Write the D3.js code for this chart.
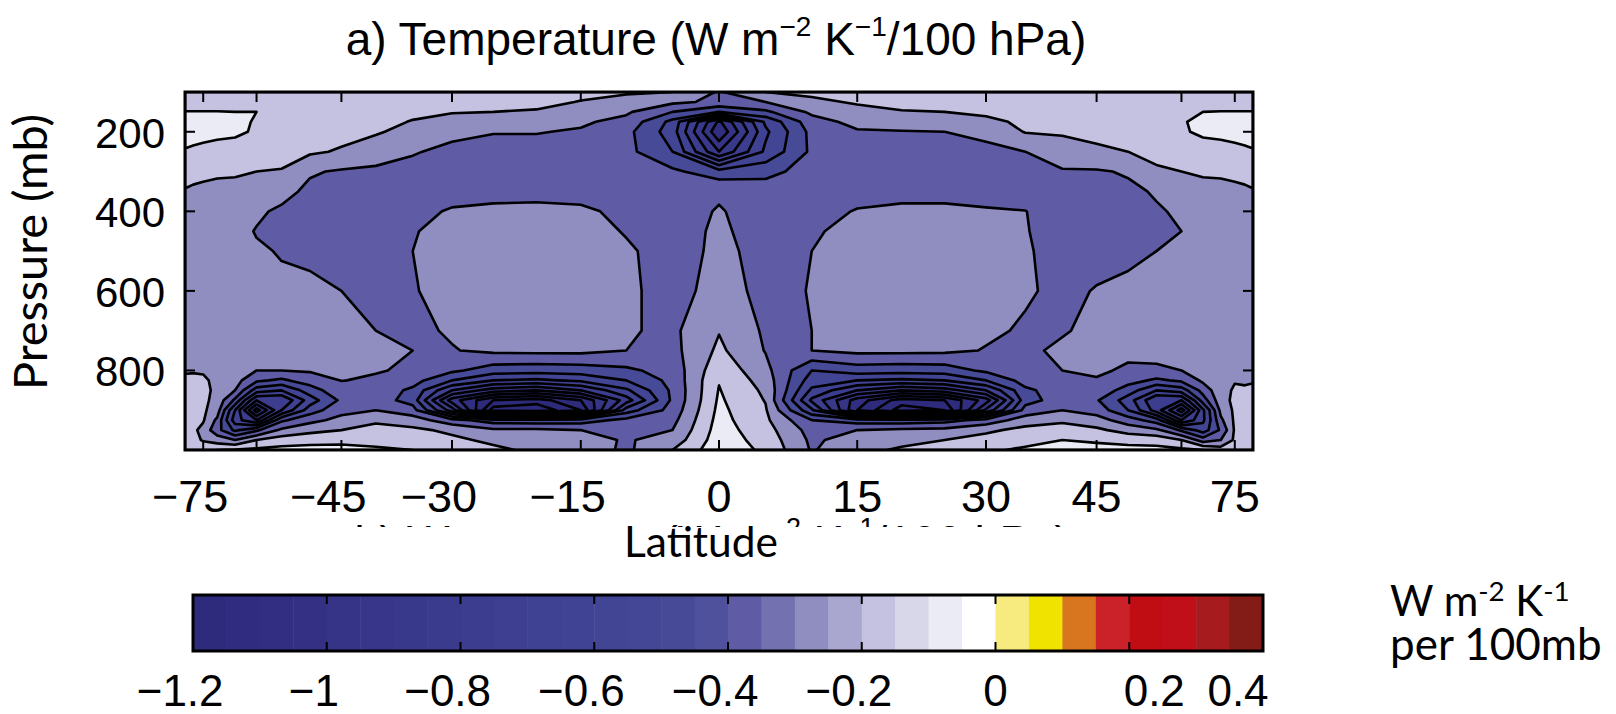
<!DOCTYPE html>
<html>
<head>
<meta charset="utf-8">
<script src="https://cdn.jsdelivr.net/npm/d3@7"></script>
<style>
  html, body { margin: 0; padding: 0; background: #ffffff; }
  svg { display: block; }
</style>
</head>
<body>
<svg id="chart" width="1616" height="714"></svg>
<script>
// ---------------------------------------------------------------
// Grid of the temperature kernel (W m-2 K-1 per 100 hPa)
// ---------------------------------------------------------------
const latitudes = [-90, -85, -80, -75, -70, -65, -60, -55, -50, -45, -40, -35, -30, -25, -20, -15, -10, -5,
                   0, 5, 10, 15, 20, 25, 30, 35, 40, 45, 50, 55, 60, 65, 70, 75, 80, 85, 90];

const pressureLevels = [100, 125, 150, 175, 200, 250, 300, 350, 400, 450, 500, 600, 700,
                        750, 800, 825, 850, 875, 900, 925, 950, 975, 1000];

// one column per latitude, values from top (100 hPa) to surface (1000 hPa)
const kernelColumns = [
  [-0.13,-0.115,-0.099,-0.088,-0.08,-0.105,-0.17,-0.21,-0.23,-0.235,-0.24,-0.24,-0.23,-0.22,-0.205,-0.19,-0.18,-0.17,-0.17,-0.17,-0.16,-0.15,-0.14],        // -90
  [-0.13,-0.115,-0.099,-0.088,-0.08,-0.105,-0.172,-0.207,-0.23,-0.235,-0.24,-0.245,-0.235,-0.225,-0.205,-0.19,-0.18,-0.175,-0.17,-0.17,-0.165,-0.155,-0.14], // -85
  [-0.13,-0.115,-0.099,-0.089,-0.082,-0.108,-0.177,-0.212,-0.235,-0.24,-0.245,-0.25,-0.24,-0.23,-0.203,-0.192,-0.185,-0.18,-0.18,-0.18,-0.175,-0.16,-0.14], // -80
  [-0.13,-0.115,-0.099,-0.09,-0.085,-0.112,-0.182,-0.217,-0.24,-0.245,-0.25,-0.255,-0.25,-0.24,-0.21,-0.185,-0.18,-0.18,-0.182,-0.19,-0.23,-0.21,-0.12],     // -75
  [-0.13,-0.115,-0.099,-0.092,-0.088,-0.118,-0.188,-0.222,-0.245,-0.25,-0.255,-0.26,-0.255,-0.25,-0.235,-0.22,-0.215,-0.225,-0.25,-0.32,-0.36,-0.25,-0.1],   // -70
  [-0.13,-0.115,-0.1,-0.094,-0.092,-0.12,-0.19,-0.225,-0.255,-0.27,-0.265,-0.265,-0.26,-0.255,-0.25,-0.26,-0.3,-0.42,-0.6,-0.65,-0.52,-0.3,-0.09],           // -65
  [-0.14,-0.118,-0.1,-0.102,-0.105,-0.15,-0.2,-0.24,-0.285,-0.305,-0.29,-0.275,-0.27,-0.27,-0.3,-0.38,-0.55,-0.8,-1.05,-0.8,-0.42,-0.2,-0.08],              // -60
  [-0.15,-0.13,-0.115,-0.12,-0.13,-0.17,-0.205,-0.27,-0.315,-0.32,-0.305,-0.285,-0.275,-0.275,-0.3,-0.42,-0.6,-0.8,-0.7,-0.42,-0.28,-0.15,-0.07],           // -55
  [-0.16,-0.145,-0.13,-0.14,-0.15,-0.185,-0.29,-0.32,-0.33,-0.33,-0.315,-0.285,-0.28,-0.28,-0.29,-0.35,-0.45,-0.55,-0.45,-0.33,-0.23,-0.13,-0.07],          // -50
  [-0.17,-0.155,-0.145,-0.157,-0.17,-0.21,-0.31,-0.34,-0.34,-0.34,-0.33,-0.3,-0.285,-0.28,-0.29,-0.298,-0.33,-0.38,-0.33,-0.27,-0.2,-0.12,-0.075],          // -45
  [-0.18,-0.165,-0.155,-0.172,-0.19,-0.25,-0.32,-0.35,-0.35,-0.345,-0.34,-0.32,-0.3,-0.29,-0.295,-0.31,-0.34,-0.35,-0.3,-0.22,-0.16,-0.12,-0.09],           // -40
  [-0.17,-0.17,-0.18,-0.205,-0.23,-0.29,-0.34,-0.36,-0.33,-0.305,-0.3,-0.305,-0.32,-0.3,-0.31,-0.36,-0.42,-0.44,-0.36,-0.25,-0.18,-0.13,-0.1],              // -35
  [-0.165,-0.175,-0.195,-0.232,-0.27,-0.33,-0.35,-0.34,-0.29,-0.275,-0.27,-0.275,-0.29,-0.305,-0.38,-0.5,-0.7,-0.95,-0.75,-0.36,-0.22,-0.18,-0.13],         // -30
  [-0.16,-0.175,-0.2,-0.25,-0.295,-0.34,-0.35,-0.33,-0.28,-0.27,-0.265,-0.265,-0.27,-0.28,-0.45,-0.6,-0.85,-1.2,-1.35,-0.45,-0.28,-0.22,-0.18],             // -25
  [-0.155,-0.17,-0.21,-0.255,-0.295,-0.34,-0.35,-0.33,-0.275,-0.265,-0.26,-0.26,-0.265,-0.275,-0.46,-0.62,-0.9,-1.25,-1.38,-0.46,-0.28,-0.24,-0.22],        // -20
  [-0.17,-0.205,-0.24,-0.285,-0.31,-0.35,-0.35,-0.33,-0.285,-0.27,-0.265,-0.265,-0.27,-0.275,-0.45,-0.58,-0.8,-1.1,-1.2,-0.45,-0.3,-0.26,-0.24],            // -15
  [-0.19,-0.23,-0.285,-0.33,-0.37,-0.37,-0.36,-0.345,-0.32,-0.305,-0.29,-0.285,-0.29,-0.3,-0.42,-0.5,-0.62,-0.75,-0.55,-0.37,-0.32,-0.31,-0.32],           // -10
  [-0.2,-0.28,-0.4,-0.53,-0.55,-0.5,-0.38,-0.35,-0.33,-0.325,-0.33,-0.33,-0.32,-0.33,-0.36,-0.37,-0.38,-0.38,-0.36,-0.33,-0.3,-0.26,-0.2],                  // -5
  [-0.31,-0.32,-0.5,-1.02,-1.09,-0.9,-0.46,-0.31,-0.295,-0.29,-0.285,-0.27,-0.205,-0.18,-0.13,-0.105,-0.095,-0.085,-0.075,-0.065,-0.055,-0.045,-0.035],     // 0
  [-0.2,-0.3,-0.42,-0.58,-0.62,-0.58,-0.43,-0.35,-0.33,-0.325,-0.32,-0.32,-0.315,-0.305,-0.27,-0.245,-0.22,-0.205,-0.19,-0.18,-0.16,-0.14,-0.12],           // 5
  [-0.18,-0.22,-0.28,-0.34,-0.37,-0.38,-0.36,-0.345,-0.33,-0.31,-0.3,-0.297,-0.3,-0.3,-0.5,-0.55,-0.62,-0.72,-0.58,-0.4,-0.34,-0.32,-0.31],                 // 10
  [-0.165,-0.19,-0.23,-0.27,-0.31,-0.35,-0.35,-0.33,-0.295,-0.275,-0.265,-0.265,-0.27,-0.275,-0.45,-0.6,-0.8,-1.05,-1.1,-0.45,-0.3,-0.25,-0.22],            // 15
  [-0.155,-0.175,-0.205,-0.255,-0.305,-0.34,-0.35,-0.33,-0.28,-0.265,-0.26,-0.26,-0.265,-0.275,-0.46,-0.62,-0.9,-1.25,-1.35,-0.46,-0.28,-0.22,-0.19],       // 20
  [-0.155,-0.17,-0.2,-0.25,-0.3,-0.34,-0.35,-0.33,-0.28,-0.27,-0.265,-0.265,-0.27,-0.28,-0.45,-0.6,-0.85,-1.2,-1.3,-0.44,-0.27,-0.2,-0.15],                 // 25
  [-0.155,-0.165,-0.18,-0.225,-0.27,-0.33,-0.35,-0.34,-0.29,-0.275,-0.27,-0.275,-0.285,-0.305,-0.38,-0.5,-0.7,-0.95,-0.78,-0.36,-0.22,-0.16,-0.11],         // 30
  [-0.15,-0.155,-0.165,-0.18,-0.195,-0.3,-0.34,-0.35,-0.298,-0.295,-0.29,-0.29,-0.31,-0.31,-0.31,-0.36,-0.42,-0.44,-0.36,-0.25,-0.17,-0.12,-0.09],          // 35
  [-0.15,-0.155,-0.16,-0.175,-0.19,-0.24,-0.31,-0.34,-0.345,-0.34,-0.335,-0.32,-0.305,-0.29,-0.3,-0.32,-0.35,-0.35,-0.3,-0.22,-0.15,-0.1,-0.08],            // 40
  [-0.155,-0.16,-0.165,-0.175,-0.185,-0.21,-0.31,-0.34,-0.34,-0.335,-0.33,-0.295,-0.285,-0.28,-0.29,-0.305,-0.33,-0.39,-0.34,-0.26,-0.18,-0.11,-0.075],     // 45
  [-0.16,-0.165,-0.17,-0.175,-0.18,-0.2,-0.29,-0.32,-0.33,-0.33,-0.31,-0.29,-0.28,-0.285,-0.31,-0.36,-0.45,-0.55,-0.5,-0.35,-0.24,-0.13,-0.07],             // 50
  [-0.16,-0.165,-0.17,-0.17,-0.17,-0.18,-0.21,-0.29,-0.31,-0.315,-0.3,-0.28,-0.28,-0.28,-0.31,-0.42,-0.6,-0.8,-0.75,-0.45,-0.28,-0.14,-0.07],               // 55
  [-0.15,-0.132,-0.105,-0.102,-0.105,-0.15,-0.2,-0.25,-0.285,-0.3,-0.29,-0.275,-0.27,-0.27,-0.3,-0.38,-0.55,-0.8,-1.05,-0.8,-0.42,-0.2,-0.08],              // 60
  [-0.13,-0.115,-0.1,-0.094,-0.092,-0.12,-0.19,-0.225,-0.255,-0.265,-0.265,-0.265,-0.26,-0.255,-0.26,-0.28,-0.36,-0.45,-0.62,-0.62,-0.55,-0.35,-0.1],       // 65
  [-0.13,-0.115,-0.099,-0.092,-0.088,-0.118,-0.188,-0.222,-0.245,-0.25,-0.255,-0.26,-0.255,-0.25,-0.24,-0.235,-0.225,-0.23,-0.27,-0.32,-0.38,-0.3,-0.15],   // 70
  [-0.13,-0.115,-0.099,-0.09,-0.085,-0.112,-0.182,-0.217,-0.24,-0.245,-0.25,-0.255,-0.25,-0.24,-0.215,-0.205,-0.19,-0.18,-0.18,-0.18,-0.185,-0.18,-0.15],   // 75
  [-0.13,-0.115,-0.099,-0.089,-0.082,-0.108,-0.177,-0.212,-0.235,-0.24,-0.245,-0.25,-0.24,-0.23,-0.215,-0.21,-0.19,-0.175,-0.17,-0.17,-0.17,-0.165,-0.155], // 80
  [-0.13,-0.115,-0.099,-0.088,-0.08,-0.105,-0.172,-0.207,-0.23,-0.235,-0.24,-0.245,-0.235,-0.225,-0.215,-0.205,-0.19,-0.175,-0.17,-0.17,-0.165,-0.16,-0.15], // 85
  [-0.13,-0.115,-0.099,-0.088,-0.08,-0.105,-0.17,-0.21,-0.23,-0.235,-0.24,-0.24,-0.23,-0.22,-0.21,-0.205,-0.19,-0.175,-0.17,-0.17,-0.16,-0.155,-0.15]        // 90
];

// contour levels drawn in the panel
const contourLevels = [-1.5, -1.4, -1.3, -1.2, -1.1, -1.0, -0.9, -0.8, -0.7, -0.6, -0.5, -0.4, -0.3, -0.2, -0.1];

// colour bar: 0.05-wide bins from -1.2 to 0.4
const colorbarStart = -1.2;
const colorbarStep = 0.05;
const colorbarColors = [
  "#2e2a7c", "#302c7f", "#322f82", "#343185", "#363487", "#38368a", "#39398b", "#3b3b8d",
  "#3c3d8f", "#3e3f90", "#3f4192", "#404393", "#424594", "#434795", "#464a97", "#4f519c",
  "#5f5ca5", "#7471b0", "#908dc0", "#a9a6d0", "#c4c2e0", "#d8d7ea", "#ebebf5", "#ffffff",
  "#f7eb7f", "#f1e300", "#d87620", "#cb2128", "#c00d14", "#c00f18", "#a51b1e", "#831b16"
];
const colorbarTicks = [-1.2, -1.0, -0.8, -0.6, -0.4, -0.2, 0, 0.2, 0.4];
const colorbarTickLabels = ["\u22121.2", "\u22121", "\u22120.8", "\u22120.6", "\u22120.4", "\u22120.2", "0", "0.2", "0.4"];

// axes
const latTicks = [-75, -60, -45, -30, -15, 0, 15, 30, 45, 60, 75];
const latLabelValues = [-75, -45, -30, -15, 0, 15, 30, 45, 75];
const latLabels = ["\u221275", "\u221245", "\u221230", "\u221215", "0", "15", "30", "45", "75"];
const pressureTicks = [200, 400, 600, 800];
const pressureLabels = ["200", "400", "600", "800"];

// ---------------------------------------------------------------
const svg = d3.select("#chart");
const NUM_FONT = "'Liberation Sans', Arial, Helvetica, sans-serif";
const LABEL_FONT = "Lato, 'Open Sans', sans-serif";

const plot = { left: 185, right: 1253, top: 92, bottom: 450 };

// latitude axis is linear in sin(latitude)
const xSin = d3.scaleLinear().domain([-1, 1]).range([plot.left, plot.right]);
const x = lat => xSin(Math.sin(lat * Math.PI / 180));
const y = d3.scaleLinear().domain([100, 1000]).range([plot.top, plot.bottom]);

// flatten the grid row by row for d3.contours
const nx = latitudes.length, ny = pressureLevels.length;
const values = new Array(nx * ny);
for (let j = 0; j < ny; j++) {
  for (let i = 0; i < nx; i++) values[j * nx + i] = kernelColumns[i][j];
}

// grid coordinates -> latitude / pressure (cell centres at index + 0.5)
function gridToValue(arr, g) {
  const n = arr.length;
  const t = Math.max(0, Math.min(n - 1, g - 0.5));
  const i = Math.min(n - 2, Math.floor(t));
  const f = t - i;
  return arr[i] + (arr[i + 1] - arr[i]) * f;
}
const projection = d3.geoTransform({
  point(gx, gy) {
    this.stream.point(x(gridToValue(latitudes, gx)), y(gridToValue(pressureLevels, gy)));
  }
});
const path = d3.geoPath(projection);

function binColor(v) {
  let k = Math.floor((v - colorbarStart) / colorbarStep + 1e-6);
  k = Math.max(0, Math.min(colorbarColors.length - 1, k));
  return colorbarColors[k];
}

const contours = d3.contours().size([nx, ny]).thresholds(contourLevels)(values);

svg.append("defs").append("clipPath").attr("id", "plot-clip")
  .append("rect")
  .attr("x", plot.left).attr("y", plot.top)
  .attr("width", plot.right - plot.left).attr("height", plot.bottom - plot.top);

const field = svg.append("g").attr("clip-path", "url(#plot-clip)");

field.selectAll("path.band")
  .data(contours)
  .join("path")
  .attr("class", "band")
  .attr("d", path)
  .attr("fill", d => binColor(d.value))
  .attr("fill-rule", "evenodd")
  .attr("stroke", (d, i) => i === 0 ? "none" : "#000")
  .attr("stroke-width", 2.6)
  .attr("stroke-linejoin", "round");

// frame
svg.append("rect")
  .attr("x", plot.left).attr("y", plot.top)
  .attr("width", plot.right - plot.left).attr("height", plot.bottom - plot.top)
  .attr("fill", "none").attr("stroke", "#000").attr("stroke-width", 3);

// inward ticks
const tickLen = 10;
const ticks = svg.append("g").attr("stroke", "#000").attr("stroke-width", 2);
latTicks.forEach(lat => {
  ticks.append("line").attr("x1", x(lat)).attr("x2", x(lat)).attr("y1", plot.top).attr("y2", plot.top + tickLen);
  ticks.append("line").attr("x1", x(lat)).attr("x2", x(lat)).attr("y1", plot.bottom).attr("y2", plot.bottom - tickLen);
});
pressureTicks.forEach(p => {
  ticks.append("line").attr("x1", plot.left).attr("x2", plot.left + tickLen).attr("y1", y(p)).attr("y2", y(p));
  ticks.append("line").attr("x1", plot.right).attr("x2", plot.right - tickLen).attr("y1", y(p)).attr("y2", y(p));
});

// label whose digits are centred on a position, the minus sign hanging to the left
function hangingLabel(g, text, cx, baseline, size) {
  const t = g.append("text")
    .attr("y", baseline)
    .attr("font-family", NUM_FONT)
    .attr("font-size", size)
    .attr("fill", "#000");
  t.text(text.replace("\u2212", ""));
  const w = t.node().getComputedTextLength();
  t.text(text).attr("text-anchor", "end").attr("x", cx + w / 2);
  return t;
}

const xLabels = svg.append("g");
latLabelValues.forEach((lat, i) => hangingLabel(xLabels, latLabels[i], x(lat), 512, 45));

const yLabels = svg.append("g");
pressureTicks.forEach((p, i) => {
  yLabels.append("text")
    .attr("x", 165).attr("y", y(p) + 16)
    .attr("text-anchor", "end")
    .attr("font-family", NUM_FONT).attr("font-size", 42)
    .text(pressureLabels[i]);
});

// fit a text element to a given width by scaling its font size
function fitWidth(sel, width) {
  const w = sel.node().getComputedTextLength();
  const fs = parseFloat(sel.attr("font-size"));
  if (w > 0) sel.attr("font-size", fs * width / w);
  return sel;
}

// axis titles
const yTitle = svg.append("text")
  .attr("transform", "translate(47,252) rotate(-90)")
  .attr("text-anchor", "middle")
  .attr("font-family", LABEL_FONT).attr("font-size", 40)
  .text("Pressure (mb)");
fitWidth(yTitle, 276);

// partly hidden heading of the panel below
svg.append("clipPath").attr("id", "ghost-clip")
  .append("rect").attr("x", 0).attr("y", 512).attr("width", 1616).attr("height", 15);
const ghost = svg.append("text")
  .attr("clip-path", "url(#ghost-clip)")
  .attr("x", 712).attr("y", 557)
  .attr("text-anchor", "middle")
  .attr("font-family", NUM_FONT).attr("font-size", 45);
ghost.append("tspan").text("b) Water vapor (W m");
ghost.append("tspan").attr("dy", -20).attr("font-size", 27).text("\u22122");
ghost.append("tspan").attr("dy", 20).text(" K");
ghost.append("tspan").attr("dy", -20).attr("font-size", 27).text("\u22121");
ghost.append("tspan").attr("dy", 20).text("/100 hPa)");

const xTitle = svg.append("text")
  .attr("x", 701).attr("y", 557)
  .attr("text-anchor", "middle")
  .attr("font-family", LABEL_FONT).attr("font-size", 44)
  .text("Latitude");
fitWidth(xTitle, 154);

// panel title
const title = svg.append("text")
  .attr("x", 716).attr("y", 55)
  .attr("text-anchor", "middle")
  .attr("font-family", NUM_FONT).attr("font-size", 46)
  .attr("fill", "#000");
title.append("tspan").text("a) Temperature (W m");
title.append("tspan").attr("dy", -19).attr("font-size", 28).text("\u22122");
title.append("tspan").attr("dy", 19).text(" K");
title.append("tspan").attr("dy", -19).attr("font-size", 28).text("\u22121");
title.append("tspan").attr("dy", 19).text("/100 hPa)");

// ---------------------------------------------------------------
// colour bar
// ---------------------------------------------------------------
const cb = { left: 193, right: 1263, top: 595, bottom: 651 };
const cbX = d3.scaleLinear().domain([colorbarStart, colorbarStart + colorbarStep * colorbarColors.length])
  .range([cb.left, cb.right]);

const cbg = svg.append("g");
cbg.selectAll("rect.bin")
  .data(colorbarColors)
  .join("rect")
  .attr("class", "bin")
  .attr("x", (c, i) => cbX(colorbarStart + i * colorbarStep))
  .attr("y", cb.top)
  .attr("width", (c, i) => cbX(colorbarStart + (i + 1) * colorbarStep) - cbX(colorbarStart + i * colorbarStep) + 0.5)
  .attr("height", cb.bottom - cb.top)
  .attr("fill", c => c);

cbg.append("rect")
  .attr("x", cb.left).attr("y", cb.top)
  .attr("width", cb.right - cb.left).attr("height", cb.bottom - cb.top)
  .attr("fill", "none").attr("stroke", "#000").attr("stroke-width", 3);

const cbTicks = cbg.append("g").attr("stroke", "#000").attr("stroke-width", 2);
colorbarTicks.slice(1, -1).forEach(v => {
  cbTicks.append("line").attr("x1", cbX(v)).attr("x2", cbX(v)).attr("y1", cb.top).attr("y2", cb.top + 9);
  cbTicks.append("line").attr("x1", cbX(v)).attr("x2", cbX(v)).attr("y1", cb.bottom).attr("y2", cb.bottom - 9);
});

// horizontal nudges of the tick labels (px)
const colorbarLabelNudge = [0, 0, 0, 0, 0, 0, 0, 25, -25];
const cbLabels = svg.append("g");
colorbarTicks.forEach((v, i) =>
  hangingLabel(cbLabels, colorbarTickLabels[i], cbX(v) + colorbarLabelNudge[i], 706, 44));

// units next to the colour bar (two lines in one text block)
const unitSize = 42;
const units = svg.append("text")
  .attr("x", 1390).attr("y", 616)
  .attr("font-family", LABEL_FONT).attr("font-size", unitSize);
units.append("tspan").text("W m");
units.append("tspan").attr("dy", -0.36 * unitSize).attr("font-size", 0.66 * unitSize).text("-2");
units.append("tspan").attr("dy", 0.36 * unitSize).text(" K");
units.append("tspan").attr("dy", -0.36 * unitSize).attr("font-size", 0.66 * unitSize).text("-1");
units.append("tspan").attr("x", 1390).attr("y", 660).attr("font-size", 44).text("per 100mb");
</script>
</body>
</html>
